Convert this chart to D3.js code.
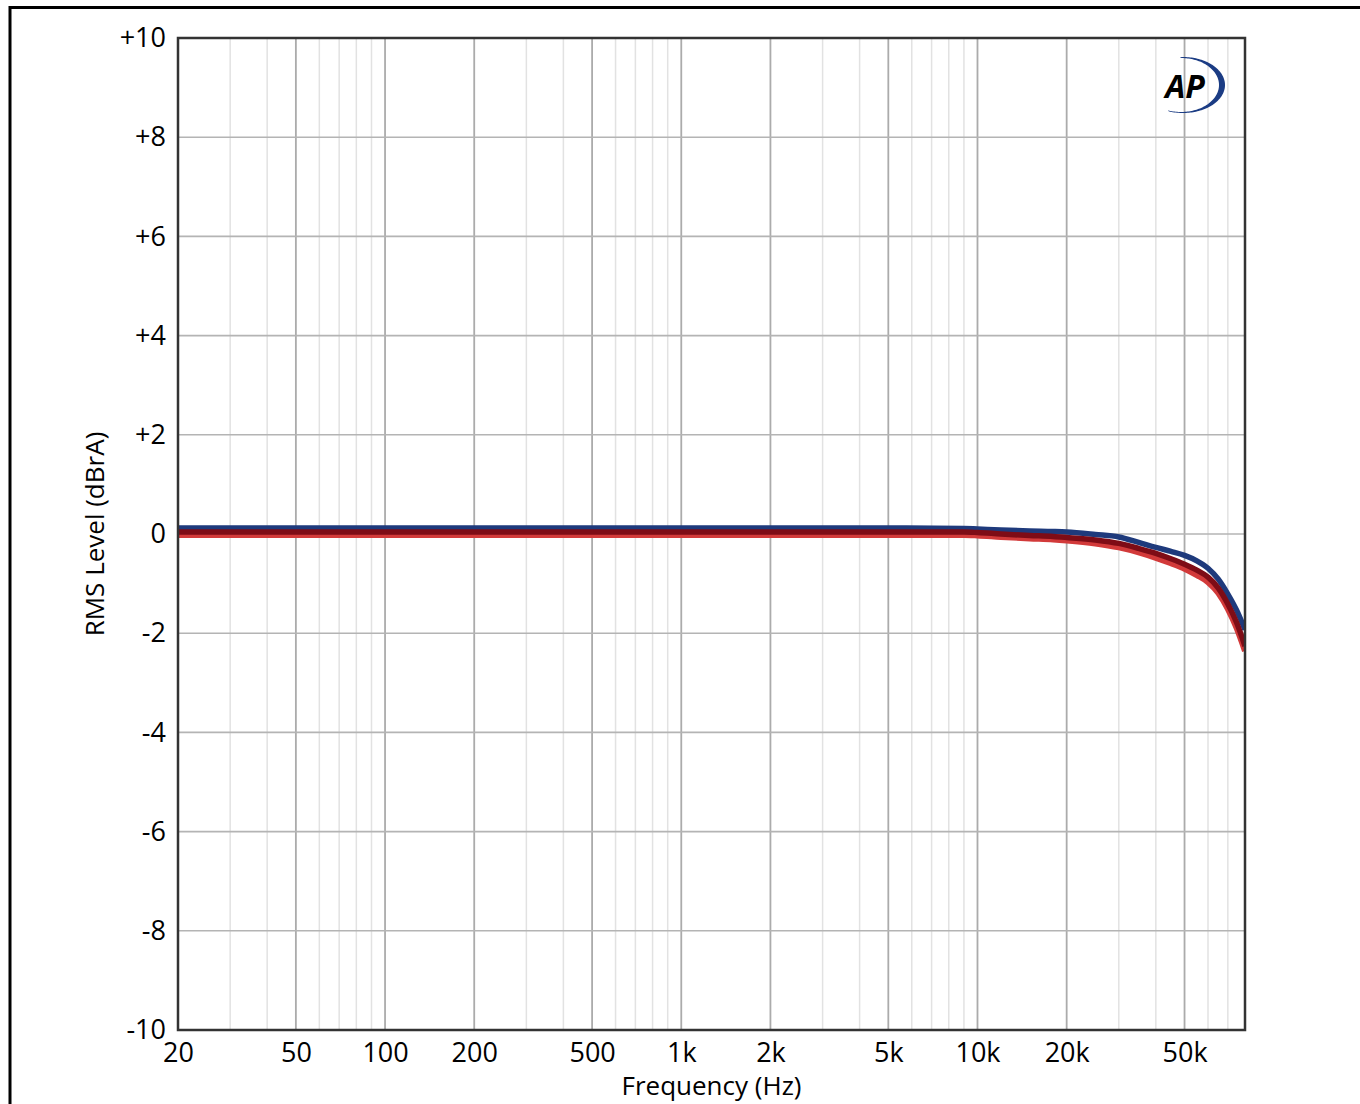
<!DOCTYPE html>
<html>
<head>
<meta charset="utf-8">
<script src="https://cdn.jsdelivr.net/npm/d3@7"></script>
<style>
  body { margin: 0; background: #fff; }
  text { font-family: "Open Sans", "Noto Sans", sans-serif; fill: #000; }
</style>
</head>
<body>
<div id="chart"></div>
<script>
// frequency points (Hz)
var freqs = [20, 50, 100, 200, 500, 1000, 2000, 5000, 9000, 10000, 12000, 15000, 18000, 20000,
             25000, 30000, 35000, 40000, 45000, 50000, 55000, 60000, 65000, 70000, 75000, 80000];
// level in dBrA per trace
var blueLevel   = [0.12, 0.12, 0.12, 0.12, 0.12, 0.12, 0.12, 0.12, 0.11, 0.10, 0.08, 0.06, 0.05, 0.04,
                   -0.01, -0.06, -0.17, -0.27, -0.35, -0.43, -0.54, -0.69, -0.91, -1.21, -1.54, -1.93];
var maroonLevel = [0.04, 0.04, 0.04, 0.04, 0.04, 0.04, 0.04, 0.04, 0.04, 0.03, 0.0, -0.03, -0.05, -0.07,
                   -0.12, -0.19, -0.29, -0.39, -0.50, -0.61, -0.73, -0.87, -1.09, -1.41, -1.79, -2.26];
var redLevel    = [-0.02, -0.02, -0.02, -0.02, -0.02, -0.02, -0.02, -0.02, -0.02, -0.03, -0.06, -0.09, -0.11, -0.13,
                   -0.19, -0.27, -0.37, -0.48, -0.59, -0.70, -0.83, -0.97, -1.19, -1.51, -1.90, -2.36];

var xTicks = [20, 50, 100, 200, 500, 1000, 2000, 5000, 10000, 20000, 50000];
var xTickLabels = ["20", "50", "100", "200", "500", "1k", "2k", "5k", "10k", "20k", "50k"];
var yTicks = [10, 8, 6, 4, 2, 0, -2, -4, -6, -8, -10];
var yTickLabels = ["+10", "+8", "+6", "+4", "+2", "0", "-2", "-4", "-6", "-8", "-10"];

var W = 1360, H = 1104;
var pL = 178, pR = 1245, pT = 38, pB = 1030;

var svg = d3.select("#chart").append("svg")
	.attr("width", W)
	.attr("height", H);

// outer frame of the picture
svg.append("rect")
	.attr("x", 10).attr("y", 7.5)
	.attr("width", W + 20).attr("height", H + 20)
	.attr("fill", "none")
	.attr("stroke", "#000")
	.attr("stroke-width", 3);

var x = d3.scaleLog().domain([20, 80000]).range([pL, pR]);
var y = d3.scaleLinear().domain([-10, 10]).range([pB, pT]);

// vertical grid: every 1..9 multiple of each decade
var gridF = [];
for (var dec = 10; dec <= 10000; dec *= 10) {
	for (var m = 1; m <= 9; m++) {
		var f = m * dec;
		if (f > 20 && f < 80000) gridF.push({f: f, major: (m == 1 || m == 2 || m == 5)});
	}
}
svg.append("g").selectAll("line")
	.data(gridF)
	.enter()
	.append("line")
	.attr("x1", function(d) { return x(d.f); })
	.attr("x2", function(d) { return x(d.f); })
	.attr("y1", pT)
	.attr("y2", pB)
	.attr("stroke", function(d) { return d.major ? "#ababab" : "#e2e2e2"; })
	.attr("stroke-width", function(d) { return d.major ? 1.8 : 1.5; });

// horizontal grid
svg.append("g").selectAll("line")
	.data(yTicks.filter(function(d) { return d != 10 && d != -10; }))
	.enter()
	.append("line")
	.attr("x1", pL)
	.attr("x2", pR)
	.attr("y1", function(d) { return y(d); })
	.attr("y2", function(d) { return y(d); })
	.attr("stroke", "#b4b4b4")
	.attr("stroke-width", 1.6);

// traces
var traces = [
	{vals: blueLevel, color: "#1e3a7c", width: 5.5},
	{vals: redLevel, color: "#d23a3a", width: 6},
	{vals: maroonLevel, color: "#7e0c16", width: 5.5}
];
var line = d3.line()
	.x(function(d) { return x(d[0]); })
	.y(function(d) { return y(d[1]); })
	.curve(d3.curveMonotoneX);

svg.append("clipPath").attr("id", "plotclip")
	.append("rect")
	.attr("x", pL).attr("y", pT)
	.attr("width", pR - pL).attr("height", pB - pT + 20);

svg.append("g")
	.attr("clip-path", "url(#plotclip)")
	.selectAll("path")
	.data(traces)
	.enter()
	.append("path")
	.attr("d", function(t) { return line(freqs.map(function(f, i) { return [f, t.vals[i]]; })); })
	.attr("fill", "none")
	.attr("stroke", function(t) { return t.color; })
	.attr("stroke-width", function(t) { return t.width; })
	.attr("stroke-linejoin", "round");

// plot frame
svg.append("rect")
	.attr("x", pL).attr("y", pT)
	.attr("width", pR - pL).attr("height", pB - pT)
	.attr("fill", "none")
	.attr("stroke", "#333")
	.attr("stroke-width", 2.5);

// y axis labels
var yAxis = svg.append("g")
	.attr("transform", "translate(" + pL + ",0)")
	.call(d3.axisLeft(y).tickValues(yTicks).tickSize(0).tickPadding(12)
		.tickFormat(function(d, i) { return yTickLabels[i]; }));
yAxis.select(".domain").remove();
yAxis.selectAll("text")
	.attr("font-size", "27px")
	.attr("font-family", null)
	.attr("fill", "#000");

// x axis labels
var xAxis = svg.append("g")
	.attr("transform", "translate(0," + pB + ")")
	.call(d3.axisBottom(x).tickValues(xTicks).tickSize(0).tickPadding(13)
		.tickFormat(function(d, i) { return xTickLabels[i]; }));
xAxis.select(".domain").remove();
xAxis.selectAll("text")
	.attr("font-size", "27px")
	.attr("font-family", null)
	.attr("fill", "#000");

svg.append("text")
	.attr("x", (pL + pR) / 2)
	.attr("y", 1095)
	.attr("text-anchor", "middle")
	.attr("font-size", "26px")
	.text("Frequency (Hz)");

svg.append("text")
	.attr("transform", "translate(104," + ((pT + pB) / 2) + ")rotate(-90)")
	.attr("text-anchor", "middle")
	.attr("font-size", "26px")
	.text("RMS Level (dBrA)");

// AP logo
var logo = svg.append("g");
var outer = [], inner = [];
for (var a = -92; a <= 110; a += 2) {
	var r = a * Math.PI / 180;
	outer.push([1183 + 42 * Math.cos(r), 85 + 28 * Math.sin(r)]);
}
for (var a2 = 110; a2 >= -92; a2 -= 2) {
	var r2 = a2 * Math.PI / 180;
	inner.push([1181 + 38 * Math.cos(r2), 85 + 27 * Math.sin(r2)]);
}
logo.append("path")
	.attr("d", d3.line()(outer.concat(inner)) + "Z")
	.attr("fill", "#1b3c84");
logo.append("text")
	.attr("x", 1185)
	.attr("y", 98)
	.attr("text-anchor", "middle")
	.attr("font-size", "32px")
	.attr("font-weight", "bold")
	.attr("font-style", "italic")
	.text("AP");
</script>
</body>
</html>
